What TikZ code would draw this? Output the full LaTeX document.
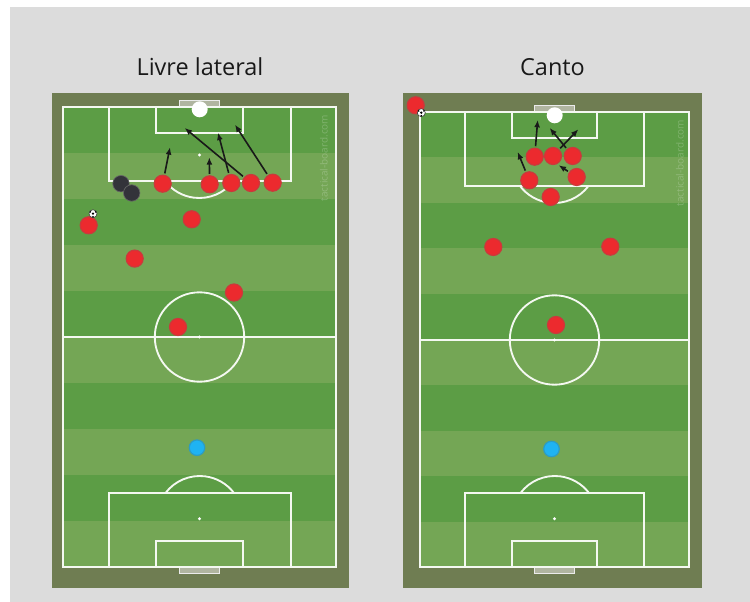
\documentclass[tikz,border=0pt]{standalone}
\usepackage{fontspec}
\setmainfont{Open Sans}
\definecolor{panelgray}{HTML}{DCDCDC}
\definecolor{surround}{HTML}{6F7D52}
\definecolor{darkturf}{HTML}{5C9D45}
\definecolor{lightturf}{HTML}{74A655}
\definecolor{redfill}{HTML}{EC2A2E}
\definecolor{redline}{HTML}{C93A3C}
\definecolor{blackfill}{HTML}{33333A}
\definecolor{bluefill}{HTML}{1FB3F2}
\definecolor{blueline}{HTML}{2C9CC4}
\definecolor{goalgray}{HTML}{B0B5A0}
\usetikzlibrary{arrows.meta,calc}
\tikzset{
  x=0.75pt,y=-0.75pt,
  pitchline/.style={draw=white!92!lightturf,line width=1.4pt},
  attacker/.style={circle,minimum size=17pt*0.75,inner sep=0pt,fill=redfill,draw=redline,line width=0.9pt,outer sep=0pt},
  opponent/.style={circle,minimum size=16.5pt*0.75,inner sep=0pt,fill=blackfill,draw=black!60,line width=0.5pt},
  keeper/.style={circle,minimum size=15.5pt*0.75,inner sep=0pt,fill=bluefill,draw=blueline,line width=0.9pt},
  ball/.style={circle,minimum size=16pt*0.75,inner sep=0pt,fill=white},
  smallball/.style={circle,minimum size=8pt*0.75,inner sep=0pt,fill=white,draw=black!80,line width=0.4pt},
  run/.style={draw=black!90,line width=1.2pt,-{Latex[length=5.5pt,width=4.5pt]}},
  title/.style={font=\fontsize{17.6pt}{21pt}\selectfont,text=black!90},
  watermark/.style={rotate=90,font=\fontsize{7.5pt}{9pt}\selectfont,text=white,opacity=.22},
  goalframe/.style={fill=goalgray,draw=white!92!black,line width=.9pt}
}
\newcommand{\pitchbase}[9]{%
  \fill[surround] (#1,93) rectangle (#2,588);
  \pgfmathsetmacro{\stripeh}{(567-#5)/10}
  \foreach \i in {0,...,9}{
    \pgfmathsetmacro{\ya}{#5+\i*\stripeh}
    \pgfmathsetmacro{\yb}{\ya+\stripeh}
    \pgfmathtruncatemacro{\odd}{mod(\i,2)}
    \ifnum\odd=0 \fill[darkturf] (#3,\ya) rectangle (#4,\yb);
    \else \fill[lightturf] (#3,\ya) rectangle (#4,\yb);\fi
  }
  \pgfmathsetmacro{\mid}{(#8+#9)/2}
  \pgfmathsetmacro{\half}{round((#5+567)/2+0.1)}
  \draw[goalframe] (\mid-20,#5-6.5) rectangle (\mid+20,#5);
  \draw[goalframe] (\mid-20,567) rectangle (\mid+20,573.5);
  \draw[pitchline] (#3,#5) rectangle (#4,567);
  \draw[pitchline] (#3,\half) -- (#4,\half);
  \draw[pitchline] (\mid,\half) circle[radius=44.7*0.75pt];
  \draw[pitchline] (#6,#5) rectangle (#7,#5+74);
  \draw[pitchline] (#8,#5) rectangle (#9,#5+26);
  \draw[pitchline] (#6,493) rectangle (#7,567);
  \draw[pitchline] (#8,541) rectangle (#9,567);
  \draw[pitchline] (\mid+34,#5+74) arc[start angle=-37.2,end angle=-142.8,radius=43*0.75pt];
  \draw[pitchline] (\mid-34,493) arc[start angle=142.8,end angle=37.2,radius=43*0.75pt];
  \fill[white] (\mid,#5+48) circle[radius=1.6*0.75pt];
  \fill[white] (\mid,518.7) circle[radius=1.6*0.75pt];
  \fill[white] (\mid,\half) circle[radius=1.6*0.75pt];
}
\newcommand{\balldots}[1]{%
  \fill[black] (#1) circle[radius=1.3*0.75pt];
  \fill[black] ($(#1)+(-2.6,-1.8)$) circle[radius=.9*0.75pt];
  \fill[black] ($(#1)+(2.6,-1.8)$) circle[radius=.9*0.75pt];
  \fill[black] ($(#1)+(0,3)$) circle[radius=.9*0.75pt];
}
\begin{document}
\begin{tikzpicture}
\useasboundingbox (0,0) rectangle (750,602);
\fill[white] (0,0) rectangle (750,602);
\fill[panelgray] (10,7) rectangle (750,602);
\node[title] (titleA) at (200,67) {Livre lateral};
\node[title] (titleB) at (552.5,67) {Canto};
\pitchbase{52}{349}{63}{336}{107}{109}{291}{156}{243}
\pitchbase{403}{702}{420}{689}{112}{465}{644}{512}{597}
\node[watermark] (wmA) at (324,158) {tactical-board.com};
\node[watermark] (wmB) at (680,163) {tactical-board.com};
% left pitch
\node[ball] (gA) at (199.7,109.3) {};
\node[opponent] (o1) at (121,183.7) {};
\node[opponent] (o2) at (131.7,193) {};
\node[attacker] (a1) at (162.7,183.7) {};
\node[attacker] (a2) at (209.7,184.3) {};
\node[attacker] (a3) at (231.3,183) {};
\node[attacker] (a4) at (251,183) {};
\node[attacker] (a5) at (272.7,182.7) {};
\node[attacker] (a6) at (191.7,219.3) {};
\node[attacker] (a7) at (88.7,225.3) {};
\node[attacker] (a8) at (134.7,258.6) {};
\node[attacker] (a9) at (234,292.5) {};
\node[attacker] (a10) at (178,327) {};
\node[keeper] (kA) at (197,447.7) {};
\node[smallball] (sA) at (93,213.7) {};
\balldots{sA}
\coordinate (t1) at (170,147.3);
\coordinate (t2) at (209.3,157.3);
\coordinate (t3) at (218,132.7);
\coordinate (t4) at (184.7,128);
\coordinate (t5) at (235,124.7);
\draw[run,shorten <=1.5pt] (a1) -- (t1);
\draw[run,shorten <=1.5pt] (a2) -- (t2);
\draw[run,shorten <=1.5pt] (a3) -- (t3);
\draw[run,shorten <=1.5pt] (a4) -- (t4);
\draw[run,shorten <=1.5pt] (a5) -- (t5);
% right pitch
\node[ball] (gB) at (554.7,115.3) {};
\node[attacker] (b1) at (415.7,105.3) {};
\node[smallball] (sB) at (421.3,112.7) {};
\balldots{sB}
\node[attacker] (b2) at (534.7,156.7) {};
\node[attacker] (b3) at (553,156) {};
\node[attacker] (b4) at (572.7,156) {};
\node[attacker] (b5) at (576.7,177) {};
\node[attacker] (b6) at (529.3,180.3) {};
\node[attacker] (b7) at (550.7,197) {};
\node[attacker] (b8) at (493.3,247) {};
\node[attacker] (b9) at (610.3,246.7) {};
\node[attacker] (b10) at (556,325) {};
\node[keeper] (kB) at (551.5,449) {};
\coordinate (u1) at (537.7,120);
\coordinate (u2) at (549.7,128);
\coordinate (u3) at (578.3,129.3);
\coordinate (u4) at (517.7,152);
\coordinate (u5) at (558.7,165.3);
\draw[run,shorten <=1.5pt] (b2) -- (u1);
\draw[run,shorten <=1.5pt] (b4) -- (u2);
\draw[run,shorten <=1.5pt] (b3) -- (u3);
\draw[run,shorten <=1.5pt] (b6) -- (u4);
\draw[run,shorten <=1.5pt] (b5) -- (u5);
\end{tikzpicture}
\end{document}
